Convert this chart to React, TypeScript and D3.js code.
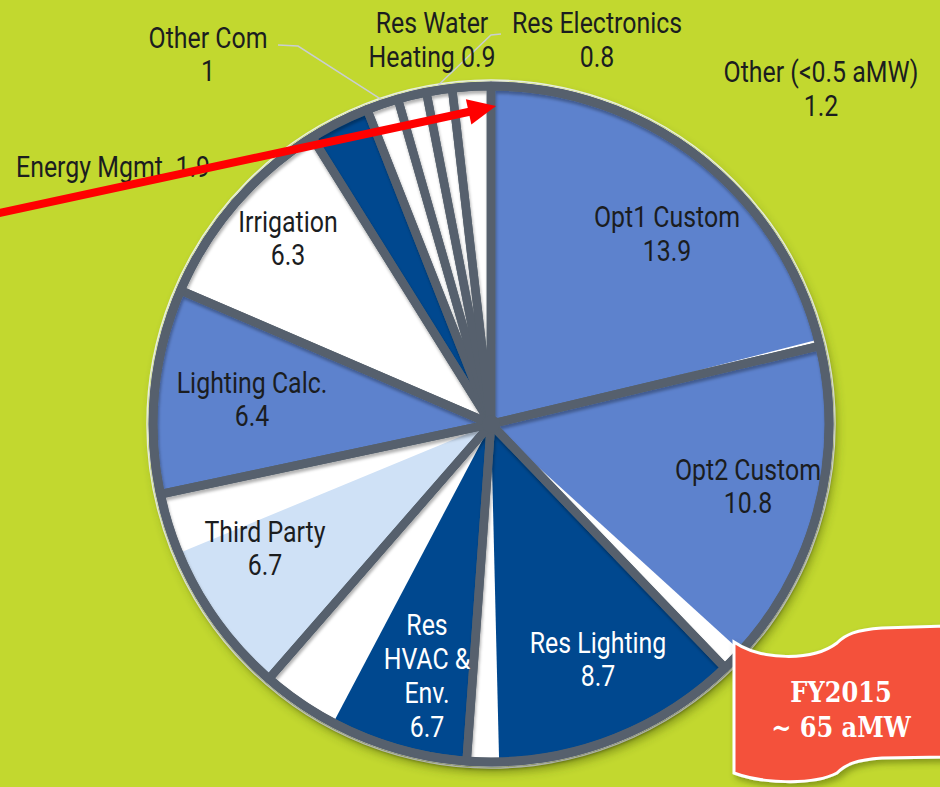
import React from 'react';
import * as d3 from 'd3';

// FY2015 savings by program, aMW
const categories = [
  'Opt1 Custom', 'Opt2 Custom', 'Res Lighting', 'Res HVAC & Env.', 'Third Party',
  'Lighting Calc.', 'Irrigation', 'Energy Mgmt.', 'Other Com', 'Res Water Heating',
  'Res Electronics', 'Other (<0.5 aMW)',
];
const values = [13.9, 10.8, 8.7, 6.7, 6.7, 6.4, 6.3, 1.9, 1, 0.9, 0.8, 1.2];
// part of each slice that is painted in colour (rest shows the white base)
const shaded = [13.7, 10.1, 7.7, 4.3, 4.8, 6.4, 6.3, 1.9, 1, 0.9, 0.8, 1.2];
const sliceColors = [
  '#5d82cd', '#5d82cd', '#00488f', '#00488f', '#cfe1f6',
  '#5d82cd', '#ffffff', '#00488f', '#ffffff', '#ffffff', '#ffffff', '#ffffff',
];

// label text lines, anchor point and colour (layout only)
const labelLines = [
  ['Opt1 Custom', '13.9'],
  ['Opt2 Custom', '10.8'],
  ['Res Lighting', '8.7'],
  ['Res', 'HVAC &', 'Env.', '6.7'],
  ['Third Party', '6.7'],
  ['Lighting Calc.', '6.4'],
  ['Irrigation', '6.3'],
  ['Energy Mgmt. 1.9'],
  ['Other Com', '1'],
  ['Res Water', 'Heating 0.9'],
  ['Res Electronics', '0.8'],
  ['Other (<0.5 aMW)', '1.2'],
];
const labelAt: [number, number][] = [
  [667, 227], [748, 480], [598, 653], [427, 635], [265, 542], [252, 393],
  [288, 232], [16, 177], [208, 48], [432, 33], [597, 33], [821, 82],
];
const lineGap = [34, 33, 33, 34, 33, 33, 33, 0, 33, 34, 34, 34];
const whiteText = [false, false, true, true, false, false, false, false, false, false, false, false];
const leaders = [8, 10]; // slices with a leader line from the label

const W = 940;
const H = 787;
const cx = 491;
const cy = 424;
const R = 338;
const GRAY = '#56616d';
const FONT = "Roboto, 'Noto Sans', sans-serif";
const SQUEEZE = 0.83;

export default function App() {
  const pie = d3.pie<number>().sort(null).value((d) => d).startAngle(0).endAngle(2 * Math.PI);
  const slices = pie(values);
  const arc = d3.arc<any>().innerRadius(0).outerRadius(R);

  const fillArcs = slices.map((s, i) => ({
    ...s,
    endAngle: s.startAngle + (shaded[i] / values[i]) * (s.endAngle - s.startAngle),
  }));

  // leader lines
  const leaderPaths = leaders.map((i) => {
    const s = slices[i];
    const a = (s.startAngle + s.endAngle) / 2;
    const ex = cx + (R + 5) * Math.sin(a);
    const ey = cy - (R + 5) * Math.cos(a);
    const [lx, ly] = labelAt[i];
    const sx = i === 8 ? lx + 70 : lx - 96;
    const sy = i === 8 ? ly - 3 : ly + 1;
    const kx = i === 8 ? sx + 20 : sx - 10;
    return `M${sx},${sy} L${kx},${sy + 1} L${ex},${ey}`;
  });

  // red arrow
  const tail: [number, number] = [-10, 215];
  const tip: [number, number] = [496, 106];
  const dx = tip[0] - tail[0];
  const dy = tip[1] - tail[1];
  const len = Math.hypot(dx, dy);
  const ux = dx / len;
  const uy = dy / len;
  const headL = 28;
  const headW = 13;
  const bx = tip[0] - headL * ux;
  const by = tip[1] - headL * uy;
  const head = `M${tip[0]},${tip[1]} L${bx - headW * uy},${by + headW * ux} L${bx + headW * uy},${by - headW * ux} Z`;

  return (
    <svg
      width={W}
      height={H}
      style={{ position: 'absolute', left: 0, top: 0, display: 'block' }}
      fontFamily={FONT}
    >
      <defs>
        <filter id="pieShadow" x="-10%" y="-10%" width="120%" height="125%">
          <feDropShadow dx="3" dy="6" stdDeviation="5" floodColor="#3a4a10" floodOpacity="0.45" />
        </filter>
        <filter id="lineShadow" x="-10%" y="-10%" width="120%" height="120%">
          <feDropShadow dx="1" dy="3" stdDeviation="1.6" floodColor="#000" floodOpacity="0.3" />
        </filter>
        <filter id="flagShadow" x="-10%" y="-10%" width="130%" height="130%">
          <feDropShadow dx="3" dy="4" stdDeviation="3" floodColor="#3a4a10" floodOpacity="0.45" />
        </filter>
      </defs>
      <rect width={W} height={H} fill="#c2d82f" />

      <g transform={`translate(${cx},${cy})`}>
        <circle r={R + 5} fill="#ffffff" filter="url(#pieShadow)" />
        <circle r={R + 6} fill="none" stroke="#e8eee0" strokeWidth={1.5} />
        {fillArcs.map((d, i) =>
          sliceColors[i] === '#ffffff' ? null : (
            <path key={`f${i}`} d={arc(d) as string} fill={sliceColors[i]} />
          )
        )}
        <g filter="url(#lineShadow)">
          {slices.map((d, i) => (
            <path
              key={`b${i}`}
              d={arc(d) as string}
              fill="none"
              stroke={GRAY}
              strokeWidth={8.5}
              strokeLinejoin="round"
            />
          ))}
          <circle r={R} fill="none" stroke={GRAY} strokeWidth={9} />
          <circle r={9} fill={GRAY} />
        </g>
      </g>

      {leaderPaths.map((p, i) => (
        <path key={`l${i}`} d={p} fill="none" stroke="#c9ced2" strokeWidth={1.5} />
      ))}

      {labelLines.map((lines, i) => (
        <g key={`t${i}`} transform={`translate(${labelAt[i][0]},${labelAt[i][1]}) scale(${SQUEEZE},1)`}>
          <text
            fontSize={30}
            fill={whiteText[i] ? '#ffffff' : '#1b1d1f'}
            textAnchor={i === 7 ? 'start' : 'middle'}
          >
            {lines.map((ln, j) => (
              <tspan key={j} x={0} dy={j === 0 ? 0 : lineGap[i]}>
                {ln}
              </tspan>
            ))}
          </text>
        </g>
      ))}

      <line x1={tail[0]} y1={tail[1]} x2={bx + 2 * ux} y2={by + 2 * uy} stroke="#ff0000" strokeWidth={8} />
      <path d={head} fill="#ff0000" />

      <g filter="url(#flagShadow)">
        <path
          d="M734,642 C760,660 812,662 837,643 C846,634 856,630 882,628 L946,626 L946,757 L882,758 C856,760 846,764 837,773 C812,786 760,783 734,773 Z"
          fill="#f4513b"
          stroke="#ffffff"
          strokeWidth={3}
        />
      </g>
      <g transform="translate(841,702) scale(0.86,1)">
        <text
          textAnchor="middle"
          fill="#ffffff"
          fontFamily="'DejaVu Serif', serif"
          fontWeight="bold"
          fontSize={28}
        >
          <tspan x={0}>FY2015</tspan>
          <tspan x={0} dy={35}>~ 65 aMW</tspan>
        </text>
      </g>
    </svg>
  );
}
